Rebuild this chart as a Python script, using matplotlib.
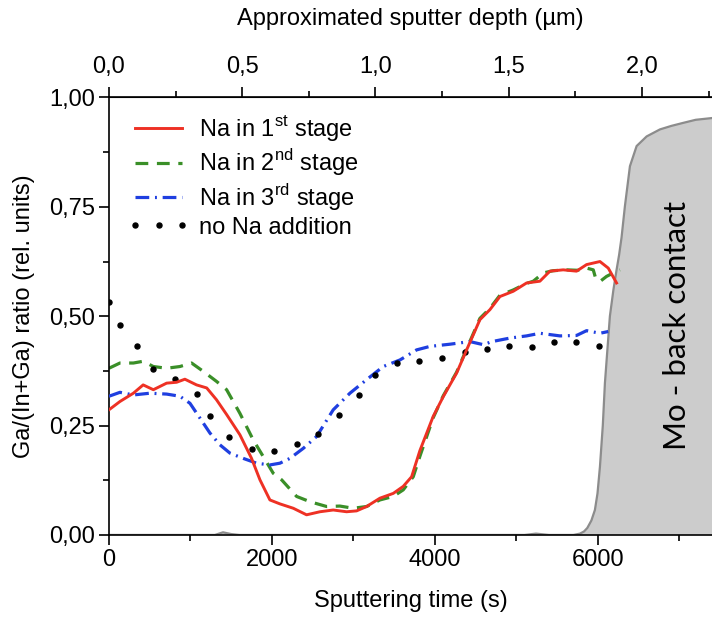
import matplotlib

matplotlib.use("Agg")

import matplotlib.pyplot as plt
from matplotlib.ticker import FixedLocator, FuncFormatter, MultipleLocator

plt.rcParams["font.family"] = ["Liberation Sans", "DejaVu Sans"]
plt.rcParams["mathtext.fontset"] = "custom"
plt.rcParams["mathtext.rm"] = "Liberation Sans"

# sputtering time (s) -> Ga/(In+Ga)
na1_time = [0, 135, 300, 420, 545, 708, 830, 932, 1075, 1200, 1320, 1445, 1607, 1750,
            1853, 1975, 2098, 2262, 2425, 2589, 2752, 2916, 3039, 3162, 3325, 3489,
            3611, 3714, 3816, 3979, 4102, 4266, 4389, 4552, 4675, 4798, 4961, 5125,
            5288, 5411, 5574, 5738, 5861, 6025, 6127, 6229]
na1_ratio = [0.286, 0.305, 0.324, 0.343, 0.332, 0.347, 0.349, 0.356, 0.343, 0.336,
             0.309, 0.275, 0.229, 0.175, 0.126, 0.080, 0.071, 0.061, 0.046, 0.053,
             0.057, 0.053, 0.055, 0.065, 0.084, 0.095, 0.111, 0.133, 0.193, 0.271,
             0.316, 0.370, 0.423, 0.492, 0.515, 0.545, 0.557, 0.576, 0.580, 0.603,
             0.606, 0.603, 0.618, 0.625, 0.610, 0.576]

na2_time = [0, 135, 300, 420, 545, 708, 871, 1014, 1157, 1320, 1444, 1607, 1771, 1894,
            2016, 2119, 2303, 2466, 2671, 2834, 2998, 3162, 3325, 3489, 3611, 3734,
            3816, 3979, 4102, 4266, 4389, 4552, 4675, 4798, 4961, 5125, 5207, 5330,
            5450, 5615, 5750, 5861, 5943, 5975, 6030, 6106, 6200, 6270]
na2_ratio = [0.381, 0.393, 0.393, 0.397, 0.385, 0.381, 0.385, 0.393, 0.374, 0.351,
             0.332, 0.278, 0.217, 0.179, 0.141, 0.126, 0.088, 0.076, 0.065, 0.066,
             0.061, 0.065, 0.080, 0.088, 0.103, 0.133, 0.180, 0.268, 0.318, 0.372,
             0.425, 0.495, 0.518, 0.548, 0.560, 0.575, 0.580, 0.599, 0.604, 0.606,
             0.605, 0.610, 0.606, 0.585, 0.580, 0.591, 0.600, 0.606]

na3_time = [0, 135, 300, 503, 708, 871, 994, 1117, 1239, 1362, 1485, 1648, 1812, 1975,
            2098, 2221, 2385, 2548, 2752, 2957, 3162, 3366, 3571, 3775, 3939, 4184,
            4429, 4593, 4700, 4920, 5125, 5288, 5534, 5738, 5861, 6025, 6127]
na3_ratio = [0.317, 0.326, 0.320, 0.324, 0.322, 0.317, 0.301, 0.267, 0.233, 0.206,
             0.187, 0.175, 0.164, 0.160, 0.164, 0.175, 0.198, 0.225, 0.286, 0.324,
             0.355, 0.385, 0.400, 0.423, 0.431, 0.436, 0.442, 0.435, 0.442, 0.450,
             0.455, 0.461, 0.455, 0.456, 0.467, 0.461, 0.465]

nona_time = [0, 135, 340, 536, 810, 1084, 1239, 1476, 1751, 2025, 2303, 2569, 2822,
             3067, 3264, 3530, 3808, 4090, 4368, 4642, 4912, 5186, 5460, 5730, 6008]
nona_ratio = [0.532, 0.481, 0.431, 0.380, 0.356, 0.323, 0.272, 0.223, 0.196, 0.193,
              0.207, 0.230, 0.275, 0.319, 0.366, 0.394, 0.398, 0.404, 0.418, 0.425,
              0.431, 0.429, 0.442, 0.442, 0.431]

mo_time = [0, 1300, 1400, 1500, 1600, 5100, 5240, 5400, 5700, 5780, 5830, 5870, 5920,
           5963, 5995, 6025, 6060, 6086, 6115, 6147, 6190, 6229, 6260, 6290, 6331,
           6393, 6475, 6598, 6761, 6900, 7047, 7200, 7400]
mo_signal = [0.0, 0.0, 0.006, 0.002, 0.0, 0.0, 0.003, 0.0, 0.0, 0.003, 0.008, 0.016,
             0.033, 0.057, 0.095, 0.156, 0.250, 0.347, 0.420, 0.500, 0.560, 0.606,
             0.640, 0.680, 0.751, 0.843, 0.889, 0.911, 0.927, 0.935, 0.942, 0.949,
             0.953]

legend_labels = [
    r"Na in 1$^{\mathregular{st}}$ stage",
    r"Na in 2$^{\mathregular{nd}}$ stage",
    r"Na in 3$^{\mathregular{rd}}$ stage",
    "no Na addition",
]
depth_ticks = [0.0, 0.5, 1.0, 1.5, 2.0]
depth_minor = [0.25, 0.75, 1.25, 1.75, 2.25]

SECONDS_PER_UM = 3270.0
FS = 17


def comma(fmt):
    return FuncFormatter(lambda v, _: format(v, fmt).replace(".", ","))


def main():
    fig = plt.figure(figsize=(7.12, 6.17), dpi=100)
    ax = fig.add_axes([0.153, 0.133, 0.847, 0.709])

    ax.fill_between(mo_time, 0, mo_signal, facecolor="#cccccc", edgecolor="none", zorder=1)
    ax.plot(mo_time, mo_signal, color="#8c8c8c", lw=1.6, zorder=1.5)

    ax.plot(na1_time, na1_ratio, color="#ee3124", lw=2.1, label=legend_labels[0], zorder=3)
    ax.plot(na2_time, na2_ratio, color="#3a8f28", lw=2.3, dashes=(4.0, 2.7),
            label=legend_labels[1], zorder=2.5)
    ax.plot(na3_time, na3_ratio, color="#1f3fe0", lw=2.3, dashes=(4.3, 1.8, 0.6, 1.8),
            label=legend_labels[2], zorder=2.6)
    ax.plot(nona_time, nona_ratio, ls="none", marker="o", ms=3.6, color="black",
            label=legend_labels[3], zorder=2.7)

    ax.text(6975, 0.478, "Mo - back contact", rotation=90, ha="center", va="center",
            fontsize=22.5, family=["Lato", "DejaVu Sans"], zorder=4)

    ax.set_xlim(0, 7400)
    ax.set_ylim(0, 1.0)
    ax.xaxis.set_major_locator(MultipleLocator(2000))
    ax.xaxis.set_minor_locator(MultipleLocator(1000))
    ax.yaxis.set_major_locator(MultipleLocator(0.25))
    ax.yaxis.set_minor_locator(MultipleLocator(0.125))
    ax.yaxis.set_major_formatter(comma(".2f"))
    ax.tick_params(which="major", direction="out", length=7, width=1.2, labelsize=FS, pad=3)
    ax.tick_params(which="minor", direction="out", length=4, width=1.2)
    ax.spines["right"].set_visible(False)
    for side in ("left", "bottom", "top"):
        ax.spines[side].set_linewidth(1.2)

    ax.set_xlabel("Sputtering time (s)", fontsize=FS, labelpad=14)
    ax.set_ylabel("Ga/(In+Ga) ratio (rel. units)", fontsize=FS, labelpad=10)

    top = ax.secondary_xaxis("top", functions=(lambda t: t / SECONDS_PER_UM,
                                               lambda d: d * SECONDS_PER_UM))
    top.xaxis.set_major_locator(FixedLocator(depth_ticks))
    top.xaxis.set_minor_locator(FixedLocator(depth_minor))
    top.xaxis.set_major_formatter(comma(".1f"))
    top.tick_params(which="major", direction="out", length=7, width=1.2, labelsize=FS, pad=7)
    top.tick_params(which="minor", direction="out", length=4, width=1.2)
    top.set_xlabel("Approximated sputter depth (\u00b5m)", fontsize=FS, labelpad=22)

    ax.legend(loc="upper left", frameon=False, fontsize=FS, numpoints=3, handlelength=2.6,
              handletextpad=0.4, labelspacing=0.16, borderaxespad=0.0,
              bbox_to_anchor=(0.016, 0.985))

    fig.savefig("out.png", dpi=100)
    plt.close(fig)


if __name__ == "__main__":
    main()
